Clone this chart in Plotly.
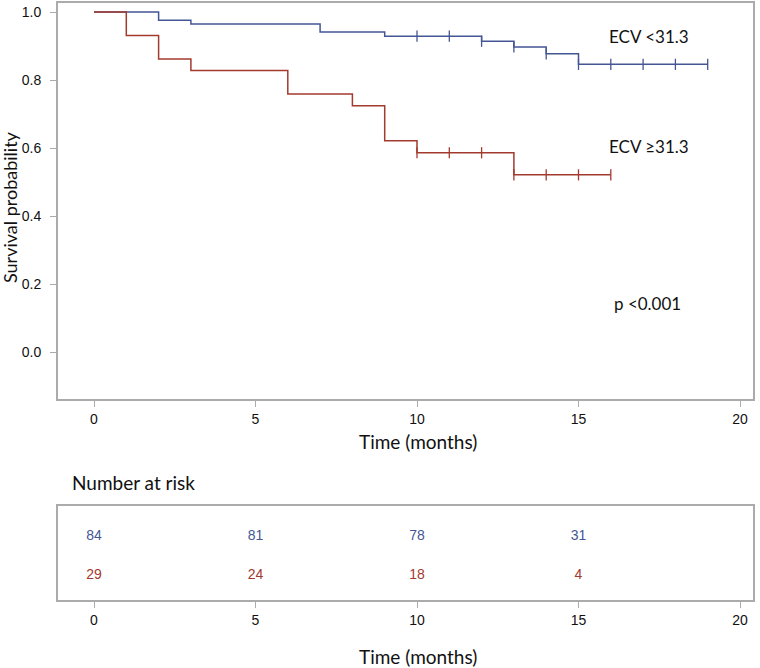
import plotly.graph_objects as go
import numpy as np

# ---- data ----
blue_times = [0, 2, 3, 7, 9, 12, 13, 14, 15, 19]
blue_surv = [1.0, 0.976, 0.965, 0.941, 0.929, 0.914, 0.897, 0.877, 0.846, 0.846]
blue_censor = [10, 11, 12, 13, 14, 15, 16, 17, 18, 19]

red_times = [0, 1, 2, 3, 6, 8, 9, 10, 13, 16]
red_surv = [1.0, 0.931, 0.862, 0.828, 0.759, 0.724, 0.621, 0.586, 0.521, 0.521]
red_censor = [10, 11, 12, 13, 14, 15, 16]

risk_times = [0, 5, 10, 15]
risk_blue = [84, 81, 78, 31]
risk_red = [29, 24, 18, 4]

x_ticks = [0, 5, 10, 15, 20]
y_ticks = [0.0, 0.2, 0.4, 0.6, 0.8, 1.0]

BLUE = "#445694"
RED = "#A23A2E"
GRAY = "#ababab"
TXT = "Lato"
NUM = "Liberation Sans"

W, H = 760, 668


def step_at(times, surv, t):
    idx = np.searchsorted(times, t, side="right") - 1
    return surv[idx]


fig = go.Figure()

for times, surv, cens, col in [(blue_times, blue_surv, blue_censor, BLUE),
                               (red_times, red_surv, red_censor, RED)]:
    fig.add_trace(go.Scatter(x=times, y=surv, mode="lines", line=dict(color=col, width=1.5, shape="hv"),
                             showlegend=False, hoverinfo="skip", xaxis="x", yaxis="y"))
    fig.add_trace(go.Scatter(x=cens, y=[step_at(times, surv, c) for c in cens], mode="markers",
                             marker=dict(symbol="line-ns", size=8, line=dict(width=1.3, color=col)),
                             showlegend=False, hoverinfo="skip", xaxis="x", yaxis="y"))

# risk table
for vals, row, col in [(risk_blue, 2, BLUE), (risk_red, 1, RED)]:
    fig.add_trace(go.Scatter(x=risk_times, y=[row] * len(vals), mode="text",
                             text=[str(v) for v in vals],
                             textfont=dict(family=NUM, size=14, color=col),
                             showlegend=False, hoverinfo="skip", xaxis="x2", yaxis="y2"))

xl, xr = 58, 753
x_dom = [xl / W, xr / W]
x_rng = [(xl - 94) / 32.3, (xr - 94) / 32.3]

top_t, top_b = 3, 399
y_rng = [-(top_b - 352) / 340, 1 + (12 - top_t) / 340]

rk_t, rk_b = 506, 600

axis_common = dict(showline=True, mirror=True, linecolor=GRAY, linewidth=2, ticks="outside",
                   ticklen=6, tickwidth=1.3, tickcolor=GRAY, showgrid=False, zeroline=False)

fig.update_layout(
    width=W, height=H, margin=dict(l=0, r=0, t=0, b=0),
    paper_bgcolor="white", plot_bgcolor="white",
    xaxis=dict(domain=x_dom, range=x_rng, tickvals=x_ticks, anchor="y",
               tickfont=dict(family=NUM, size=14, color="#111"), **axis_common),
    yaxis=dict(domain=[(H - top_b) / H, (H - top_t) / H], range=y_rng, tickvals=y_ticks,
               tickformat=".1f", anchor="x", ticklabelstandoff=6,
               tickfont=dict(family=NUM, size=14, color="#111"), **axis_common),
    xaxis2=dict(domain=x_dom, range=x_rng, tickvals=x_ticks, anchor="y2",
                tickfont=dict(family=NUM, size=14, color="#111"), **axis_common),
    yaxis2=dict(domain=[(H - rk_b) / H, (H - rk_t) / H], range=[1 - 25 / 39, 2 + 30 / 39],
                showticklabels=False, anchor="x2",
                showline=True, mirror=True, linecolor=GRAY, linewidth=2, ticks="",
                showgrid=False, zeroline=False),
)

title_font = dict(family=TXT, size=19, color="#111")
ann_font = dict(family=TXT, size=17, color="#111")
anns = [
    dict(text="Survival probability", x=10 / W, y=(H - 207) / H, textangle=-90,
         font=dict(family=TXT, size=18, color="#111")),
    dict(text="Time (months)", x=418 / W, y=(H - 441) / H, font=title_font),
    dict(text="Time (months)", x=418 / W, y=(H - 656) / H, font=title_font),
]
for a in anns:
    fig.add_annotation(xref="paper", yref="paper", showarrow=False,
                       xanchor="center", yanchor="middle", **a)

fig.add_annotation(text="Number at risk", xref="paper", yref="paper", x=70 / W, y=(H - 482) / H,
                   xanchor="left", yanchor="middle", showarrow=False, font=title_font)

for txt, xp, yp in [("ECV &lt;31.3", 607, 37), ("ECV ≥31.3", 607, 146), ("p &lt;0.001", 612, 303)]:
    fig.add_annotation(text=txt, xref="paper", yref="paper", x=xp / W, y=(H - yp) / H,
                       xanchor="left", yanchor="middle", showarrow=False, font=ann_font)

fig.write_html("out.html", config={"displayModeBar": False},
               post_script="document.body.style.margin='0';document.body.style.overflow='hidden';")
